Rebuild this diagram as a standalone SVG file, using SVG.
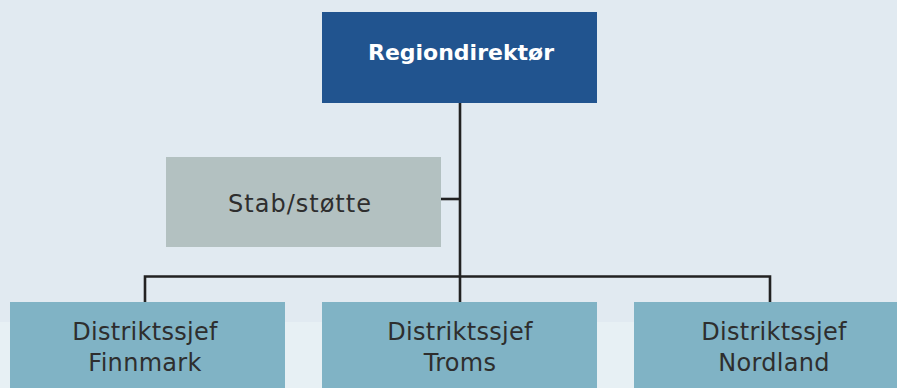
<svg xmlns="http://www.w3.org/2000/svg" width="897" height="388" viewBox="0 0 897 388">
<style>
.t{font-family:"DejaVu Sans","Liberation Sans",sans-serif;font-size:24px;fill:#2e2e2e;text-anchor:middle;letter-spacing:0.3px}
.h{font-family:"DejaVu Sans","Liberation Sans",sans-serif;font-size:22px;font-weight:bold;fill:#ffffff;text-anchor:middle}
.d{fill:#80b3c5}
.c{fill:none;stroke:#222222;stroke-width:2.6}
</style>
<rect x="0" y="0" width="897" height="388" fill="#e1eaf1"/>
<rect x="0" y="322" width="897" height="66" fill="#e7f0f4"/>
<g id="connectors">
<line class="c" x1="460" y1="102" x2="460" y2="302"/>
<line class="c" x1="441" y1="199" x2="460" y2="199"/>
<polyline class="c" points="145,302 145,276.5 770,276.5 770,302"/>
</g>
<g id="regiondirektor">
<rect x="322" y="12" width="275" height="91" fill="#21548f"/>
<text class="h" x="461" y="60">Regiondirektør</text>
</g>
<g id="stab">
<rect x="166" y="157" width="275" height="90" fill="#b3c1c1"/>
<text class="t" x="300" y="212" style="letter-spacing:1px">Stab/støtte</text>
</g>
<g id="finnmark">
<rect class="d" x="10" y="302" width="275" height="86"/>
<text class="t" x="145" y="340">Distriktssjef</text>
<text class="t" x="145" y="371">Finnmark</text>
</g>
<g id="troms">
<rect class="d" x="322" y="302" width="275" height="86"/>
<text class="t" x="460" y="340">Distriktssjef</text>
<text class="t" x="460" y="371">Troms</text>
</g>
<g id="nordland">
<rect class="d" x="634" y="302" width="263" height="86"/>
<text class="t" x="774" y="340">Distriktssjef</text>
<text class="t" x="774" y="371">Nordland</text>
</g>
</svg>
